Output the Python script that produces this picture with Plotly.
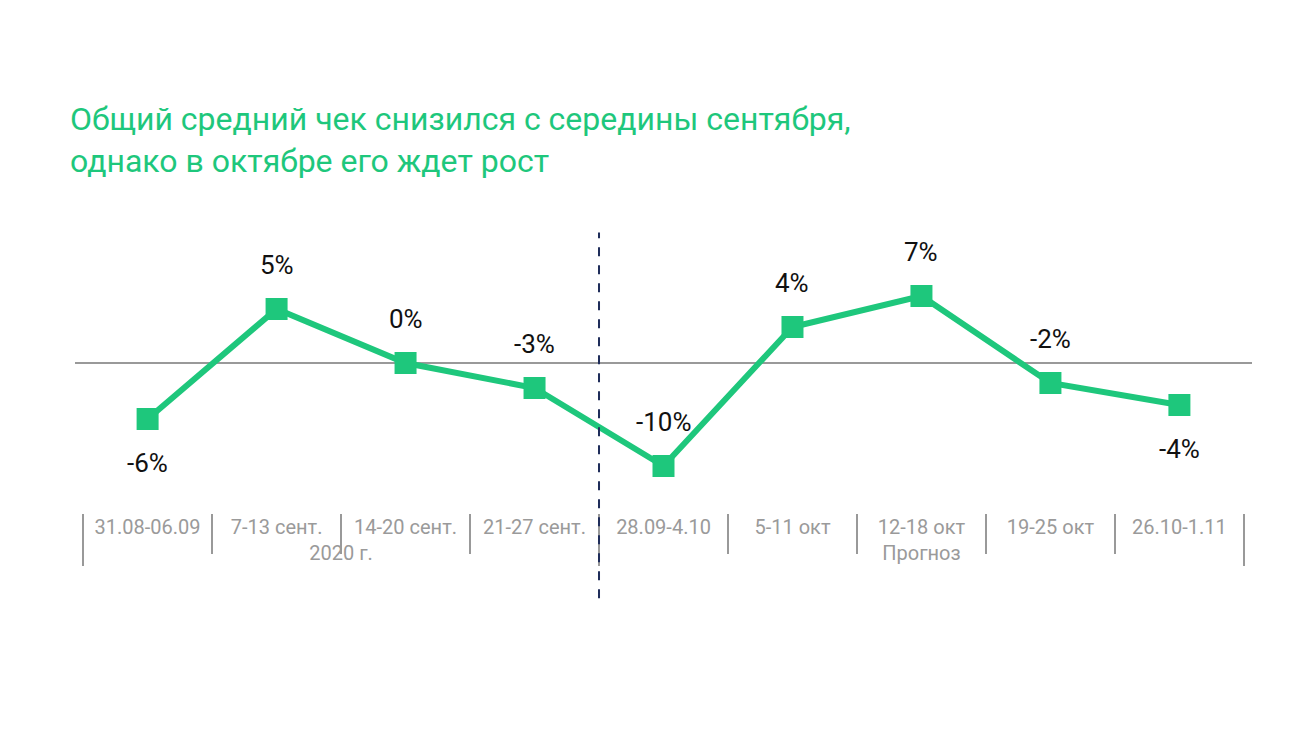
import plotly.graph_objects as go

weeks = ["31.08-06.09", "7-13 сент.", "14-20 сент.", "21-27 сент.", "28.09-4.10",
         "5-11 окт", "12-18 окт", "19-25 окт", "26.10-1.11"]
groups = ["2020 г."] * 4 + ["Прогноз"] * 5
values = [-5.6, 5.4, 0.0, -2.5, -10.3, 3.6, 6.7, -2.0, -4.2]
labels = ["-6%", "5%", "0%", "-3%", "-10%", "4%", "7%", "-2%", "-4%"]
label_above = [False, True, True, True, True, True, True, True, False]

green = "#1ec77c"

fig = go.Figure(go.Scatter(
    x=[groups, weeks], y=values, mode="lines+markers",
    line=dict(color=green, width=6),
    marker=dict(symbol="square", size=22, color=green),
    cliponaxis=False,
))
for g, w, v, t, up in zip(groups, weeks, values, labels, label_above):
    fig.add_annotation(x=[g, w] and None, y=v, text=t, showarrow=False,
                       xref="x", yref="y", yshift=44 if up else -44,
                       font=dict(size=26, color="#111", family="Roboto"))
# set annotation x positions by category index
for i, a in enumerate(fig.layout.annotations):
    a.x = i
fig.add_shape(type="line", xref="x", yref="paper", x0=3.5, x1=3.5, y0=-0.31, y1=1.02,
              line=dict(color="#1f2d5a", width=2, dash="dash"))
fig.update_layout(
    width=1300, height=731, plot_bgcolor="white", paper_bgcolor="white",
    margin=dict(l=67, r=56, t=230, b=226, autoexpand=False), showlegend=False,
    font=dict(family="Roboto", color="#9a9a9a", size=20),
    title=dict(text="Общий средний чек снизился с середины сентября,<br>однако в октябре его ждет рост",
               x=62/1300, xanchor="left", y=1-122/731, yanchor="top",
               font=dict(size=32, color=green, family="Roboto")),
    xaxis=dict(type="multicategory", showline=False, showgrid=False, ticks="outside",
               ticklen=40, tickcolor="#999", tickwidth=2, automargin=False,
               showdividers=True, dividercolor="#999", dividerwidth=2,
               tickfont=dict(size=20, color="#9a9a9a")),
    yaxis=dict(range=[-15, 12.5], showgrid=False, showticklabels=False, automargin=False,
               zeroline=True, zerolinecolor="#999", zerolinewidth=2),
)
fig.write_html("out.html")
